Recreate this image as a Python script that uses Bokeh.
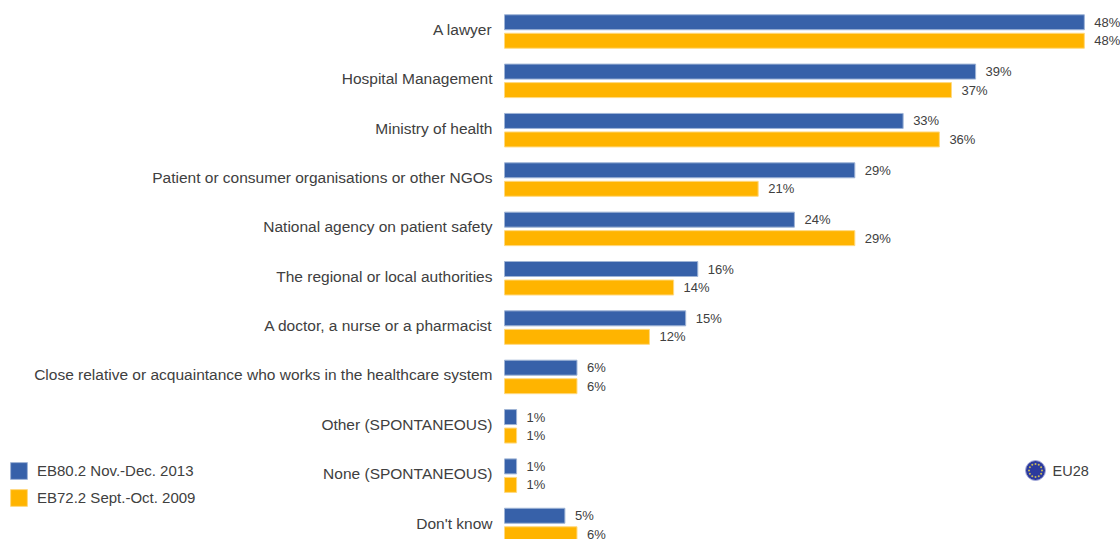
from bokeh.plotting import figure
from bokeh.models import Range1d, Legend, LegendItem, Label, FixedTicker, ColumnDataSource
from bokeh.core.properties import value
from bokeh.embed import file_html
from bokeh.resources import INLINE
import math

categories = ["A lawyer", "Hospital Management", "Ministry of health",
              "Patient or consumer organisations or other NGOs",
              "National agency on patient safety", "The regional or local authorities",
              "A doctor, a nurse or a pharmacist",
              "Close relative or acquaintance who works in the healthcare system",
              "Other (SPONTANEOUS)", "None (SPONTANEOUS)", "Don't know"]
eb80 = [48, 39, 33, 29, 24, 16, 15, 6, 1, 1, 5]
eb72 = [48, 37, 36, 21, 29, 14, 12, 6, 1, 1, 6]
name80 = "EB80.2 Nov.-Dec. 2013"
name72 = "EB72.2 Sept.-Oct. 2009"
BLUE, ORANGE, TEXT = "#3761A9", "#FFB400", "#404040"
FONT = "Liberation Sans"

W, H, LEFT = 1120, 539, 504
PXX = 12.08
ROW = 49.35
TOP = 31.0
y_start = (H - TOP) / ROW
y_end = -TOP / ROW
d = 9.25 / ROW
bh = 15.0 / ROW
label_shift = 0.04

p = figure(width=W, height=H, output_backend="svg", toolbar_location=None,
           x_range=Range1d(-LEFT / PXX, (W - LEFT) / PXX), y_range=Range1d(y_start, y_end),
           min_border_left=0, min_border_right=0, min_border_top=0, min_border_bottom=0,
           outline_line_color=None)
p.grid.visible = False
p.xaxis.visible = False
ax = p.yaxis[0]
ax.fixed_location = 0
ticks = [round(i - label_shift, 2) for i in range(len(categories))]
ax.ticker = FixedTicker(ticks=ticks)
ax.major_label_overrides = {t: c for t, c in zip(ticks, categories)}
ax.axis_line_color = None
ax.major_tick_line_color = None
ax.minor_tick_line_color = None
ax.major_label_standoff = 6
ax.major_label_text_font = FONT
ax.major_label_text_font_size = "15.5px"
ax.major_label_text_color = TEXT

idx = list(range(len(categories)))
s80 = ColumnDataSource(dict(y=[i - d for i in idx], v=eb80, t=[f"{v}%" for v in eb80]))
s72 = ColumnDataSource(dict(y=[i + d for i in idx], v=eb72, t=[f"{v}%" for v in eb72]))
r80 = p.hbar(y="y", right="v", left=0, height=bh, source=s80, fill_color=BLUE, line_color="#9FB4D6", line_width=1)
r72 = p.hbar(y="y", right="v", left=0, height=bh, source=s72, fill_color=ORANGE, line_color="#FFD980", line_width=1)
for s in (s80, s72):
    p.text(x="v", y="y", text="t", source=s, x_offset=10, text_baseline="middle",
           text_font=value(FONT), text_font_size="13px", text_color=TEXT)

legend = Legend(items=[LegendItem(label=name80, renderers=[r80]), LegendItem(label=name72, renderers=[r72])],
                location=(8, H - 508), orientation="vertical", padding=0, margin=0, spacing=6,
                glyph_width=21, glyph_height=21, label_standoff=8, border_line_color=None,
                background_fill_alpha=0, label_text_font=FONT, label_text_font_size="15px",
                label_text_color=TEXT)
p.add_layout(legend)

# EU28 badge
def dx(px): return (px - LEFT) / PXX
def dy(px): return (px - TOP) / ROW
cx, cy = 1035, 470
p.scatter([dx(cx)], [dy(cy)], size=20, marker="circle", fill_color="#2B3A9E", line_color="#A9AEDB", line_width=1)
n = 12
p.scatter([dx(cx + 6.5 * math.cos(2 * math.pi * k / n)) for k in range(n)],
          [dy(cy + 6.5 * math.sin(2 * math.pi * k / n)) for k in range(n)],
          size=2, marker="circle", fill_color="#C9B85A", line_color=None)
p.add_layout(Label(x=1052, y=H - 470, x_units="screen", y_units="screen", text="EU28",
                   text_font=FONT, text_font_size="14.5px", text_color=TEXT, text_baseline="middle"))

open("out.html", "w").write(file_html(p, INLINE))
